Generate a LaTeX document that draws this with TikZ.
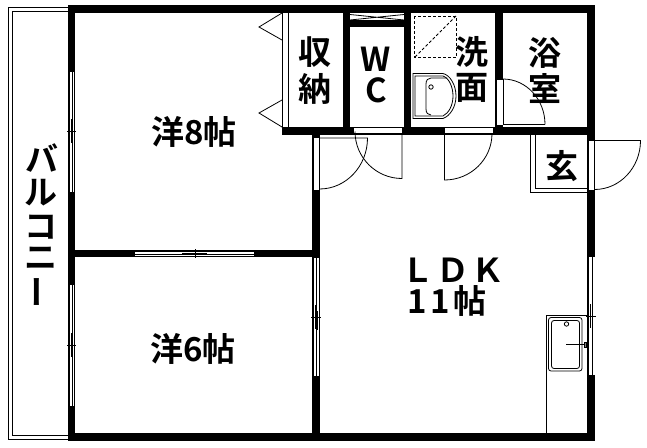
\documentclass[tikz,border=0pt]{standalone}
\usepackage{fontspec}
\setmainfont{Noto Sans CJK JP}[BoldFont=* Bold]
\tikzset{
  wall/.style={fill=black,draw=none},
  thin line/.style={draw=black,line width=0.8pt},
  glass/.style={fill=white,draw=none},
  lbl/.style={inner sep=0pt,font=\bfseries\fontsize{33}{33}\selectfont},
  dashline/.style={draw=black,line width=0.8pt,dash pattern=on 3pt off 2pt},
}
\begin{document}
\begin{tikzpicture}[x=1pt,y=-1pt]
\useasboundingbox (0,0) rectangle (647,447);
\fill[white] (0,0) rectangle (647,447);
% balcony
\draw[thin line] (68,7.5) -- (8.5,7.5) -- (8.5,439.5) -- (68,439.5);
\draw[thin line] (68,11.5) -- (12.5,11.5) -- (12.5,435.5) -- (68,435.5);
% outer walls
\fill[wall] (68,5) rectangle (595,13);
\fill[wall] (68,433) rectangle (595,441);
\fill[wall] (68,5) rectangle (75,441);
\fill[wall] (587,5) rectangle (595,441);
% partitions
\fill[wall] (75,250) rectangle (320,257);
\fill[wall] (312,127) rectangle (320,441);
\fill[wall] (282,127) rectangle (595,135);
\fill[wall] (343,13) rectangle (350,127);
\fill[wall] (404,13) rectangle (411,127);
\fill[wall] (495,13) rectangle (503,127);
\fill[wall] (350,21) rectangle (404,27);
% left windows
\foreach \a/\b/\m in {72/192/131,285/406/345}{
  \fill[glass] (70,\a) rectangle (74,\b);
  \draw[thin line] (72,\a) -- (72,\b);
  \draw[line width=1.4pt] (72,\m-12) -- (72,\m+12);
  \draw[thin line] (67,\m) -- (76,\m);
}
% window 8/6
\fill[glass] (135,252) rectangle (254,256);
\draw[thin line] (135,254) -- (254,254);
\draw[line width=1.4pt] (182,254) -- (207,254);
\draw[thin line] (195,249) -- (195,258);
% window 6/LDK
\fill[glass] (313.5,257.5) rectangle (319,376);
\draw[thin line] (316,257.5) -- (316,376);
\draw[thin line] (315,305) -- (315,329);
\draw[thin line] (317,311) -- (317,330);
\draw[thin line] (311,317) -- (321,317);
% right window
\fill[glass] (589,257) rectangle (594.5,375);
\draw[thin line] (592,257) -- (592,375);
\draw[thin line] (590.5,304) -- (590.5,328);
\draw[thin line] (592.5,316) -- (592.5,329);
\draw[thin line] (586,316.5) -- (596,316.5);
% closet
\fill[white] (283,13) rectangle (288,127);
\draw[thin line] (282.5,13) -- (282.5,127);
\draw[thin line] (288,13) -- (288,127);
\draw[thin line] (282,13) -- (259,27) -- (282,40);
\draw[thin line] (282,100) -- (259,113) -- (282,127);
% WC top shelf
\draw[thin line] (350,20) -- (404,20);
\draw[thin line] (350,14.5) -- (404,20) (350,20) -- (404,14.5);
% WC door
\fill[glass] (354,127.5) rectangle (402,134);
\draw[thin line] (354,133.5) -- (402,133.5);
\draw[thin line] (402,133.5) -- (402,178.5) arc[start angle=90,end angle=180,radius=47];
% wash door
\fill[glass] (445,127.5) rectangle (493,134);
\draw[thin line] (445,133.5) -- (493,133.5);
\draw[thin line] (444.5,133.5) -- (444.5,180) arc[start angle=90,end angle=0,x radius=47.5,y radius=46.5];
% LDK door
\fill[glass] (314,138) rectangle (319.5,190);
\draw[thin line] (319,138) -- (367.5,138) arc[start angle=0,end angle=90,x radius=48,y radius=51];
\draw[thin line] (313.5,138) -- (313.5,190);
\draw[thin line] (319.5,138) -- (319.5,190);
% bath door
\fill[glass] (497,79) rectangle (503,125);
\draw[thin line] (497,79) -- (503,79) (497,125) -- (503,125);
\draw[thin line] (503,79) -- (503,124.5) -- (545,124.5);
\draw[thin line] (545,124.5) arc[start angle=0,end angle=-90,x radius=42,y radius=45.5];
% genkan
\draw[thin line] (530.5,135) -- (530.5,192.5) -- (587,192.5);
\draw[thin line] (535,135) -- (535,188.5) -- (587,188.5);
\fill[glass] (589,141) rectangle (594,190);
\draw[thin line] (594.5,140.5) -- (640.5,140.5);
\draw[thin line] (594.5,140.5) -- (594.5,190);
\draw[thin line] (640.5,140.5) arc[start angle=0,end angle=90,x radius=46,y radius=49];
% wash fixtures
\draw[dashline] (414.5,16) rectangle (456,57.5);
\draw[dashline] (415,57) -- (456,16);
\draw[thin line] (413,73.5) -- (443,73.5) .. controls (450,75) and (456,85) .. (456,96) .. controls (456,107) and (450,116) .. (443,118.5) -- (413,118.5) -- cycle;
\draw[thin line] (415,76) -- (443,76) .. controls (449,78) and (453,87) .. (453,96) .. controls (453,105) and (449,113) .. (443,116) -- (415,116) -- cycle;
\draw[thin line] (431,78) -- (447,78) (426,84) .. controls (426,80) and (428,78) .. (431,78) (426,84) -- (426,109) .. controls (426,113) and (428,115) .. (431,115);
\draw[thin line] (431,87) circle[radius=2.2];
% kitchen
\draw[thin line] (546.5,433) -- (546.5,315.5) -- (587,315.5);
\draw[thin line,rounded corners=2.5pt] (548.5,317.5) rectangle (582,371);
\draw[thin line,rounded corners=2.5pt] (551.5,320.5) rectangle (579.5,368.5);
\draw[thin line] (566.5,324) circle[radius=2.2];
\draw[thin line] (566,344.5) -- (584,344.5);
\draw[fill=gray,line width=0.8pt] (584,342.5) rectangle (586.5,347);
% labels
\node[lbl] (r8) at (194,132) {洋8帖};
\node[lbl] (r6) at (193,349) {洋6帖};
\node[lbl] (ldk) at (453,270) {Ｌ\kern2ptＤ\kern2ptＫ};
\node[lbl] (ldkb) at (447,301) {1\kern4pt1\kern4pt帖};
\node[lbl] (s1) at (315,52) {収};
\node[lbl] (s2) at (315,89) {納};
\node[lbl] (w) at (376,59) {W};
\node[lbl] (c) at (376,90) {C};
\node[lbl] (k1) at (472,52) {洗};
\node[lbl] (k2) at (472,88) {面};
\node[lbl] (b1) at (545,53) {浴};
\node[lbl] (b2) at (545,89) {室};
\node[lbl] (g) at (562,166) {玄};
\node[lbl] (v1) at (42,158) {バ};
\node[lbl] (v2) at (41,193) {ル};
\node[lbl] (v3) at (41,227) {コ};
\node[lbl] (v4) at (41,258) {ニ};
\node[lbl,rotate=90] (v5) at (42,292) {ー};
\end{tikzpicture}
\end{document}
